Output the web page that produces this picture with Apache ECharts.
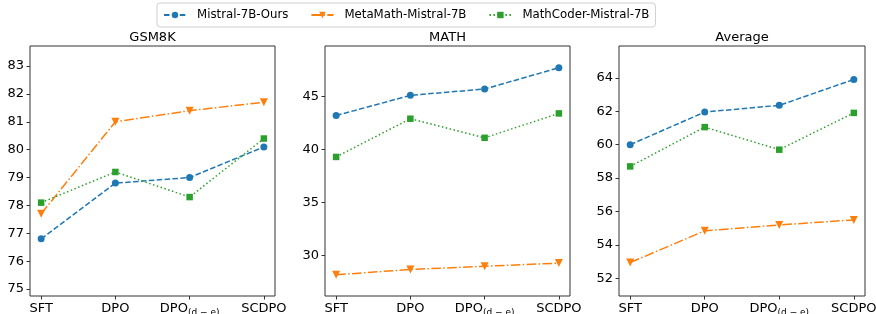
<!DOCTYPE html>
<html><head><meta charset="utf-8">
<script src="https://cdn.jsdelivr.net/npm/echarts@6/dist/echarts.min.js"></script>
<style>html,body{margin:0;padding:0;background:#fff}#c{width:876px;height:314px}</style>
</head><body><div id="c"></div>
<script>
const categories = ['SFT', 'DPO', 'DPO(d-e)', 'SCDPO'];
const seriesNames = ['Mistral-7B-Ours', 'MetaMath-Mistral-7B', 'MathCoder-Mistral-7B'];
const panelTitles = ['GSM8K', 'MATH', 'Average'];

const gsmOurs  = [76.8, 78.8, 79.0, 80.1];
const gsmMeta  = [77.7, 81.0, 81.4, 81.7];
const gsmCoder = [78.1, 79.2, 78.3, 80.4];

const mathOurs  = [43.2, 45.1, 45.7, 47.7];
const mathMeta  = [28.2, 28.7, 29.0, 29.3];
const mathCoder = [39.3, 42.9, 41.1, 43.4];

const avgOurs  = [60.0, 61.95, 62.35, 63.9];
const avgMeta  = [52.95, 54.85, 55.2, 55.5];
const avgCoder = [58.7, 61.05, 59.7, 61.9];

const gsmTicks  = [75, 76, 77, 78, 79, 80, 81, 82, 83];
const mathTicks = [30, 35, 40, 45];
const avgTicks  = [52, 54, 56, 58, 60, 62, 64];

const panels = [
  { data: [gsmOurs, gsmMeta, gsmCoder], ticks: gsmTicks, ylim: [74.75, 83.72] },
  { data: [mathOurs, mathMeta, mathCoder], ticks: mathTicks, ylim: [26.2, 49.75] },
  { data: [avgOurs, avgMeta, avgCoder], ticks: avgTicks, ylim: [50.95, 65.9] }
];

const FONT = 'DejaVu Sans';
const colors = ['#1f77b4', '#ff7f0e', '#2ca02c'];
const lineTypes = [[5.5, 2.4], [9.6, 2.4, 1.5, 2.4], [1.5, 2.5]];
const symbols = ['circle', 'triangle', 'rect'];
const symbolSizes = [7, 8, 6.5];
const symbolRotates = [0, 180, 0];

const gridLefts = [30, 325, 619];
const gridWidths = [245, 245, 246];

const xIdx = categories.map((c, i) => i);

const option = {
  animation: false,
  backgroundColor: '#fff',
  textStyle: { fontFamily: FONT },
  legend: {
    data: seriesNames,
    left: 157, top: 3,
    padding: [6, 6, 6, 6],
    itemWidth: 22, itemHeight: 8, itemGap: 22,
    borderColor: '#d0d0d0', borderWidth: 1, borderRadius: 3,
    backgroundColor: '#fff',
    textStyle: { fontFamily: FONT, fontSize: 11.75, color: '#000', padding: [0, 0, 0, 6] }
  },
  title: panelTitles.map((t, i) => ({
    text: t,
    left: gridLefts[i] + gridWidths[i] / 2,
    textAlign: 'center',
    top: 31,
    padding: 0,
    textStyle: { fontFamily: FONT, fontSize: 13, fontWeight: 'normal', color: '#000' }
  })),
  grid: panels.map((p, i) => ({
    left: gridLefts[i], top: 46, width: gridWidths[i], height: 250,
    containLabel: false, outerBoundsMode: 'none',
    show: true, borderColor: '#333', borderWidth: 1, backgroundColor: 'transparent'
  })),
  xAxis: panels.map((p, i) => ({
    type: 'value', gridIndex: i, min: -0.15, max: 3.15,
    axisLine: { show: false, onZero: false },
    splitLine: { show: false },
    axisTick: { show: true, length: 3.5, customValues: xIdx, lineStyle: { color: '#333' } },
    axisLabel: {
      customValues: xIdx,
      margin: 5,
      fontFamily: FONT, fontSize: 13, color: '#000',
      formatter: v => {
        const c = categories[Math.round(v)];
        if (c === 'DPO(d-e)') return '{m|DPO}{s|(d − e)}';
        return '{m|' + c + '}';
      },
      rich: {
        m: { fontFamily: FONT, fontSize: 13, color: '#000', lineHeight: 15 },
        s: { fontFamily: FONT, fontSize: 9, color: '#000', padding: [8, 0, 0, 0], lineHeight: 15 }
      }
    }
  })),
  yAxis: panels.map((p, i) => ({
    type: 'value', gridIndex: i, min: p.ylim[0], max: p.ylim[1],
    axisLine: { show: false, onZero: false },
    splitLine: { show: false },
    axisTick: { show: true, length: 3.5, customValues: p.ticks, lineStyle: { color: '#333' } },
    axisLabel: { customValues: p.ticks, margin: 6, fontFamily: FONT, fontSize: 13, color: '#000' }
  })),
  series: []
};

panels.forEach((p, pi) => {
  p.data.forEach((vals, si) => {
    option.series.push({
      type: 'line',
      name: seriesNames[si],
      xAxisIndex: pi, yAxisIndex: pi,
      data: vals.map((v, k) => [xIdx[k], v]),
      symbol: symbols[si],
      symbolSize: symbolSizes[si],
      symbolRotate: symbolRotates[si],
      showSymbol: true,
      color: colors[si],
      itemStyle: { color: colors[si] },
      lineStyle: { color: colors[si], width: 1.5, type: lineTypes[si] },
      z: 2 + si
    });
  });
});

const chart = echarts.init(document.getElementById('c'), null, { renderer: 'canvas' });
chart.setOption(option);
</script></body></html>
